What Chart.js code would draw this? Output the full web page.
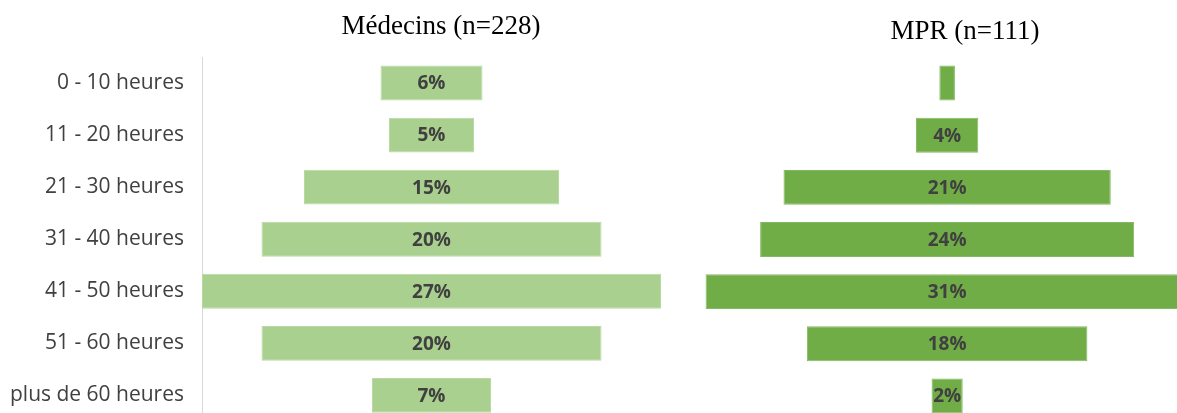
<!DOCTYPE html>
<html>
<head>
<meta charset="utf-8">
<script src="https://cdn.jsdelivr.net/npm/chart.js@4/dist/chart.umd.min.js"></script>
<style>
  html, body { margin: 0; padding: 0; background: #fff; overflow: hidden; width: 1177px; height: 413px; }
  canvas { position: absolute; top: 0; }
  #leftChart { left: 0; }
  #rightChart { left: 680px; }
</style>
</head>
<body>
<canvas id="leftChart" width="680" height="452"></canvas>
<canvas id="rightChart" width="497" height="430"></canvas>
<script>
// Weekly working hours, share of respondents (%)
const categories = ['0 - 10 heures', '11 - 20 heures', '21 - 30 heures', '31 - 40 heures',
                    '41 - 50 heures', '51 - 60 heures', 'plus de 60 heures'];
const medecinsValues = [6, 5, 15, 20, 27, 20, 7];
const mprValues = [1, 4, 21, 24, 31, 18, 2];
const medecinsTitle = 'Médecins (n=228)';
const mprTitle = 'MPR (n=111)';
// bars narrower than this carry no value label
const minLabelledValue = 2;

const TEXT_GREY = '#404040';

// Centred (funnel) bars: each bar spans [-v/2, +v/2]
const centred = values => values.map(v => [-v / 2, v / 2]);

// Draws the panel heading at a given position
const panelTitle = {
  id: 'panelTitle',
  afterDraw(chart, args, opts) {
    const ctx = chart.ctx;
    ctx.save();
    ctx.font = '27px "Liberation Serif", "DejaVu Serif", serif';
    ctx.fillStyle = '#000';
    ctx.textAlign = 'center';
    ctx.textBaseline = 'middle';
    ctx.fillText(opts.text, opts.x, opts.y);
    ctx.restore();
  }
};

// Writes each value in the middle of its bar
const barValues = {
  id: 'barValues',
  afterDatasetsDraw(chart, args, opts) {
    const ctx = chart.ctx;
    const meta = chart.getDatasetMeta(0);
    const values = opts.values;
    ctx.save();
    ctx.font = 'bold 19px "Open Sans", "Noto Sans", sans-serif';
    ctx.fillStyle = TEXT_GREY;
    ctx.textAlign = 'center';
    ctx.textBaseline = 'middle';
    meta.data.forEach((bar, i) => {
      if (values[i] < minLabelledValue) return;
      const { x, base, y } = bar.getProps(['x', 'base', 'y'], true);
      ctx.fillText(values[i] + '%', (x + base) / 2, y + 1);
    });
    ctx.restore();
  }
};

function baseOptions() {
  return {
    responsive: false,
    animation: false,
    indexAxis: 'y',
    events: [],
    plugins: { legend: { display: false }, tooltip: { enabled: false } }
  };
}

// Left panel: Médecins, with the category labels
const leftOpts = baseOptions();
leftOpts.layout = { padding: { top: 57, right: 19, bottom: 0, left: 0 } };
leftOpts.scales = {
  x: { display: false, min: -13.5, max: 13.5 },
  y: {
    grid: { display: false, drawTicks: false },
    border: { display: true, color: '#d9d9d9', width: 1 },
    ticks: { color: TEXT_GREY, padding: 18, font: { family: '"Open Sans", "Noto Sans", sans-serif', size: 21 } },
    afterFit(scale) { scale.width = 202; }
  }
};
leftOpts.plugins.panelTitle = { text: medecinsTitle, x: 441, y: 27 };
leftOpts.plugins.barValues = { values: medecinsValues };

new Chart(document.getElementById('leftChart'), {
  type: 'bar',
  data: {
    labels: categories,
    datasets: [{
      data: centred(medecinsValues),
      backgroundColor: '#a9d08e',
      borderColor: '#b8d9a2',
      borderWidth: 1,
      borderSkipped: false,
      categoryPercentage: 1,
      barPercentage: 0.67
    }]
  },
  options: leftOpts,
  plugins: [panelTitle, barValues]
});

// Right panel: MPR
const rightOpts = baseOptions();
rightOpts.layout = { padding: { top: 57, right: 0, bottom: 8, left: 10 } };
rightOpts.scales = {
  x: { display: false, min: -16.5, max: 14.75 },
  y: { display: false }
};
rightOpts.plugins.panelTitle = { text: mprTitle, x: 285, y: 32 };
rightOpts.plugins.barValues = { values: mprValues };

new Chart(document.getElementById('rightChart'), {
  type: 'bar',
  data: {
    labels: categories,
    datasets: [{
      data: centred(mprValues),
      backgroundColor: '#70ad47',
      borderColor: '#84b963',
      borderWidth: 1,
      borderSkipped: false,
      categoryPercentage: 1,
      barPercentage: 0.67
    }]
  },
  options: rightOpts,
  plugins: [panelTitle, barValues]
});
</script>
</body>
</html>
